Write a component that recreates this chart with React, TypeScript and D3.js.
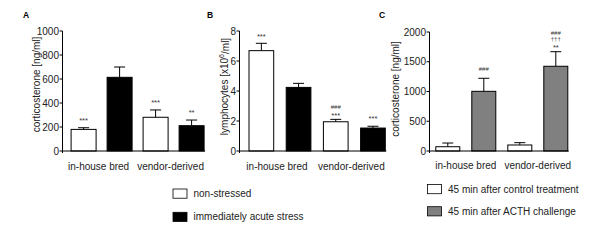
import React from "react";
import * as d3 from "d3";

const categories = ["in-house bred", "vendor-derived"];

// Panel A: corticosterone [ng/ml]
const aNonStressed = [180, 281];
const aNonStressedErr = [14, 61];
const aAcute = [614, 211];
const aAcuteErr = [86, 47];
const aNotes = [["***"], [], ["***"], ["**"]];
const aTicks = [0, 200, 400, 600, 800, 1000];

// Panel B: lymphocytes [x10^6/ml]
const bNonStressed = [6.69, 1.95];
const bNonStressedErr = [0.49, 0.16];
const bAcute = [4.24, 1.53];
const bAcuteErr = [0.27, 0.12];
const bNotes = [["***"], [], ["###", "***"], ["***"]];
const bTicks = [0, 2, 4, 6, 8];

// Panel C: corticosterone [ng/ml]
const cControl = [72, 101];
const cControlErr = [62, 39];
const cActh = [1003, 1424];
const cActhErr = [219, 245];
const cNotes = [[], ["###"], [], ["###", "†††", "**"]];
const cTicks = [0, 500, 1000, 1500, 2000];

const legendAB = ["non-stressed", "immediately acute stress"];
const legendC = ["45 min after control treatment", "45 min after ACTH challenge"];

const FONT = "'Liberation Sans', Arial, sans-serif";

type PanelProps = {
  letter: string;
  letterX: number;
  axisX: number;
  offset: number;
  step: number;
  barW: number;
  yTop: number;
  yMax: number;
  ticks: number[];
  s1: number[];
  s1e: number[];
  s2: number[];
  s2e: number[];
  fill2: string;
  notes: string[][];
  yLabel: React.ReactNode;
  yLabelX: number;
  yLabelY: number;
  catShift: number;
  catY: number;
};

function Panel(p: PanelProps) {
  const y0 = 151;
  const y = d3.scaleLinear().domain([0, p.yMax]).range([y0, p.yTop]);
  const ids = ["0", "1", "2", "3"];
  const pi = (p.step - p.barW) / p.step;
  const po = p.offset / p.step;
  const L = p.step * (4 - pi + 2 * po);
  const x = d3.scaleBand().domain(ids).range([p.axisX, p.axisX + L]).paddingInner(pi).paddingOuter(po);
  const bw = x.bandwidth();
  const bars: { v: number; e: number; fill: string; notes: string[] }[] = [];
  categories.forEach((_, i) => {
    bars.push({ v: p.s1[i], e: p.s1e[i], fill: "#ffffff", notes: p.notes[i * 2] });
    bars.push({ v: p.s2[i], e: p.s2e[i], fill: p.fill2, notes: p.notes[i * 2 + 1] });
  });
  const lastEnd = (x("3") as number) + bw;
  return (
    <g>
      <text x={p.letterX} y={18} fontFamily={FONT} fontWeight="bold" fontSize={8.5}>{p.letter}</text>
      <text
        transform={`translate(${p.yLabelX},${p.yLabelY}) rotate(-90)`}
        textAnchor="middle"
        dominantBaseline="middle"
        fontFamily={FONT}
        fontSize={10}
        fill="#222"
      >
        {p.yLabel}
      </text>
      {bars.map((b, i) => {
        const bx = x(String(i)) as number;
        const cx = bx + bw / 2;
        const top = y(b.v);
        const et = y(b.v + b.e);
        const n = b.notes.length;
        const multi = n > 1;
        return (
          <g key={i}>
            <line x1={cx} x2={cx} y1={top} y2={et} stroke="#000" strokeWidth={1} />
            <line x1={cx - 5.5} x2={cx + 5.5} y1={et} y2={et} stroke="#000" strokeWidth={1} />
            <rect x={bx} y={top} width={bw} height={y0 - top} fill={b.fill} stroke="#000" strokeWidth={1} />
            {b.notes.map((s, k) => {
              const fromBottom = n - 1 - k;
              const center = et - (multi ? 5.5 : 9) - fromBottom * 6.8;
              const isStar = s.includes("*");
              const fs = isStar ? 7.5 : 6;
              const base = isStar ? center + 4.2 : center + 2.1;
              return (
                <text key={k} x={cx} y={base} textAnchor="middle" fontFamily={FONT} fontSize={fs} fill="#333">
                  {s}
                </text>
              );
            })}
          </g>
        );
      })}
      <line x1={p.axisX} x2={p.axisX} y1={y(p.yMax)} y2={y0 + 2} stroke="#000" strokeWidth={1} />
      <line x1={p.axisX} x2={lastEnd + 1} y1={y0} y2={y0} stroke="#000" strokeWidth={1} />
      {p.ticks.map((t) => (
        <g key={t}>
          <line x1={p.axisX - 3} x2={p.axisX} y1={y(t)} y2={y(t)} stroke="#000" strokeWidth={1} />
          <text x={p.axisX - 3.5} y={y(t)} dy="0.36em" textAnchor="end" fontFamily={FONT} fontSize={10} fill="#222">
            {t}
          </text>
        </g>
      ))}
      {categories.map((c, i) => {
        const a = x(String(i * 2)) as number;
        const b = (x(String(i * 2 + 1)) as number) + bw;
        return (
          <text key={c} x={(a + b) / 2 + p.catShift} y={p.catY} textAnchor="middle" fontFamily={FONT} fontSize={10} fill="#222">
            {c}
          </text>
        );
      })}
    </g>
  );
}

function Legend({ x, y, labels, fills, gap }: { x: number; y: number; labels: string[]; fills: string[]; gap: number }) {
  return (
    <g>
      {labels.map((l, i) => (
        <g key={l}>
          <rect x={x} y={y + i * gap} width={14} height={9.2} fill={fills[i]} stroke="#000" strokeWidth={0.8} />
          <text x={x + 20.5} y={y + i * gap + 8} fontFamily={FONT} fontSize={10} fill="#222">
            {l}
          </text>
        </g>
      ))}
    </g>
  );
}

export default function App() {
  return (
    <svg width={600} height={241} style={{ position: "absolute", left: 0, top: 0, background: "#fff" }}>
      <Panel
        letter="A"
        letterX={23}
        axisX={62.5}
        offset={8.6}
        step={36}
        barW={25}
        yTop={31}
        yMax={1000}
        ticks={aTicks}
        s1={aNonStressed}
        s1e={aNonStressedErr}
        s2={aAcute}
        s2e={aAcuteErr}
        fill2="#000"
        notes={aNotes}
        yLabel="corticosterone [ng/ml]"
        yLabelX={37.5}
        yLabelY={84.5}
        catShift={-3}
        catY={170}
      />
      <Panel
        letter="B"
        letterX={207}
        axisX={239.5}
        offset={9.5}
        step={37.2}
        barW={24.7}
        yTop={31}
        yMax={8}
        ticks={bTicks}
        s1={bNonStressed}
        s1e={bNonStressedErr}
        s2={bAcute}
        s2e={bAcuteErr}
        fill2="#000"
        notes={bNotes}
        yLabel={
          <>
            lymphocytes [x10<tspan dy="-4" fontSize={7}>6</tspan>
            <tspan dy="4">/ml]</tspan>
          </>
        }
        yLabelX={225.5}
        yLabelY={86.5}
        catShift={-3}
        catY={170}
      />
      <Panel
        letter="C"
        letterX={379}
        axisX={429.5}
        offset={6.3}
        step={36}
        barW={24}
        yTop={32}
        yMax={2000}
        ticks={cTicks}
        s1={cControl}
        s1e={cControlErr}
        s2={cActh}
        s2e={cActhErr}
        fill2="#808080"
        notes={cNotes}
        yLabel="corticosterone [ng/ml]"
        yLabelX={396}
        yLabelY={89}
        catShift={0}
        catY={168.5}
      />
      <Legend x={173} y={189} labels={legendAB} fills={["#fff", "#000"]} gap={23.3} />
      <Legend x={427.5} y={184.5} labels={legendC} fills={["#fff", "#808080"]} gap={22.2} />
    </svg>
  );
}
